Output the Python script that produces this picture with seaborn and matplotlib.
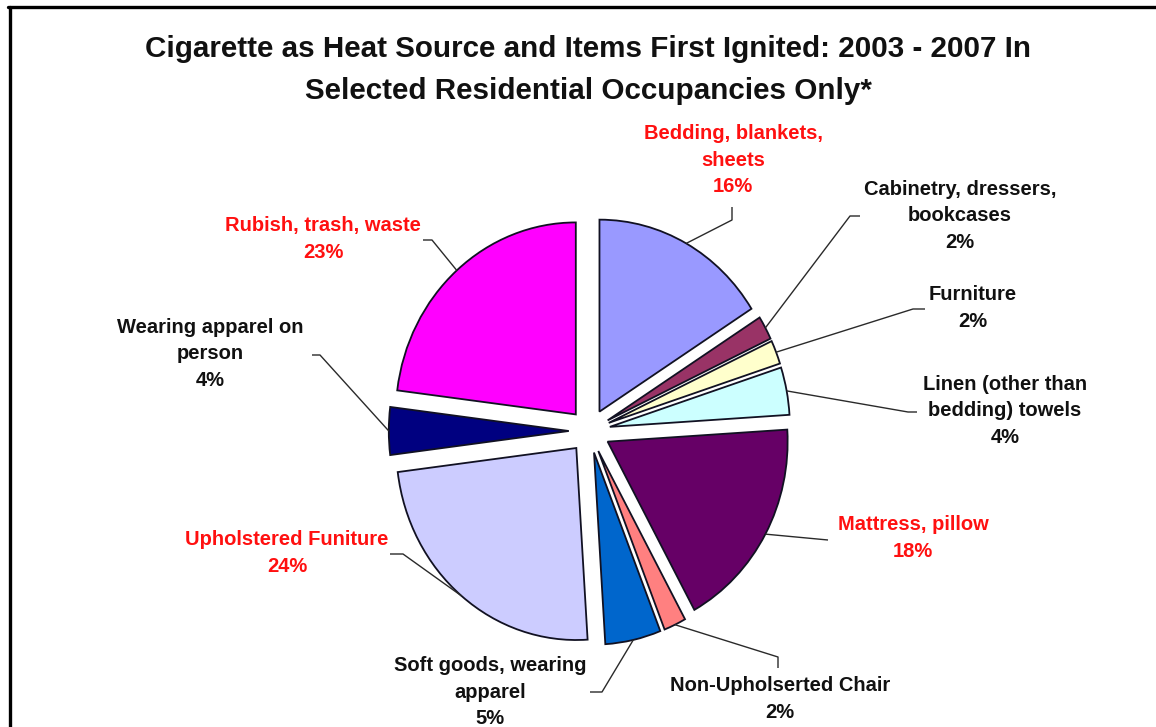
import numpy as np
import matplotlib
matplotlib.use("Agg")
import matplotlib.pyplot as plt
import seaborn as sns

# ---------------- data ----------------
categories = [
    "Bedding, blankets,\nsheets",
    "Cabinetry, dressers,\nbookcases",
    "Furniture",
    "Linen (other than\nbedding) towels",
    "Mattress, pillow",
    "Non-Upholserted Chair",
    "Soft goods, wearing\napparel",
    "Upholstered Funiture",
    "Wearing apparel on\nperson",
    "Rubish, trash, waste",
]
percent = [16, 2, 2, 4, 18, 2, 5, 24, 4, 23]
slice_colors = ["#9999FF", "#993366", "#FFFFCC", "#CCFFFF", "#660066",
                "#FF8080", "#0066CC", "#CCCCFF", "#000080", "#FF00FF"]
highlight = [True, False, False, False, True, False, False, True, False, True]
title = ("Cigarette as Heat Source and Items First Ignited: 2003 - 2007 In\n"
         "Selected Residential Occupancies Only*")

# ---------------- layout (pixels) ----------------
W, H = 1156, 727
CX, CY = 589.5, 431.0      # pie centre
RX, RY = 180.0, 192.0      # px per data unit in x / y
EXPLODE = 0.115
# label centre (x, y of middle of text block), leader elbow points
label_pos = [(733, 160), (960, 216), (973, 308), (1005, 411), (913, 538),
             (780, 699), (490, 692), (287, 553), (210, 354), (323, 239)]
leader_pts = [
    [(732, 220), (732, 207)],
    [(850, 216), (860, 216)],
    [(913, 309), (925, 309)],
    [(908, 412), (917, 412)],
    [(828, 540)],
    [(778, 657), (778, 668)],
    [(602, 692), (590, 692)],
    [(403, 554), (390, 554)],
    [(320, 355), (312, 355)],
    [(432, 240), (423, 240)],
]

def px2data(x, y):
    return (x - CX) / RX, (CY - y) / RY

sns.set_style("white")
plt.rcParams["font.family"] = ["Liberation Sans", "DejaVu Sans"]

fig = plt.figure(figsize=(W / 100, H / 100), dpi=100)
ax = fig.add_axes([0, 0, 1, 1])

wedges, _ = ax.pie(percent, colors=slice_colors, startangle=90,
                   counterclock=False, explode=[EXPLODE] * len(percent),
                   wedgeprops=dict(edgecolor="#111122", linewidth=1.3))
ax.set_aspect("auto")
ax.set_xlim(-CX / RX, (W - CX) / RX)
ax.set_ylim(-(H - CY) / RY, CY / RY)
ax.axis("off")

for w, cat, p, hl, lp, pts in zip(wedges, categories, percent, highlight,
                                  label_pos, leader_pts):
    ang = np.deg2rad((w.theta1 + w.theta2) / 2)
    r = 1 + EXPLODE
    sx, sy = r * np.cos(ang), r * np.sin(ang)
    xs = [sx] + [px2data(*q)[0] for q in pts]
    ys = [sy] + [px2data(*q)[1] for q in pts]
    ax.plot(xs, ys, color="#2a2a2a", lw=1.0, solid_capstyle="butt")
    tx, ty = px2data(*lp)
    ax.text(tx, ty, f"{cat}\n{p}%", ha="center", va="center",
            fontsize=14.5, fontweight="bold", linespacing=1.5,
            color="#FF1010" if hl else "#111111")

fig.text(588 / W, 1 - 70 / H, title, ha="center", va="center",
         fontsize=21.3, fontweight="bold", linespacing=1.68, color="#111111")

# partial frame (left and top edges)
fig.add_artist(plt.Line2D([9.5 / W, 9.5 / W], [0, 1 - 7 / H],
                          color="black", lw=2.4, transform=fig.transFigure))
fig.add_artist(plt.Line2D([8.3 / W, 1], [1 - 7 / H, 1 - 7 / H],
                          color="black", lw=2.4, transform=fig.transFigure))

fig.savefig("out.png", dpi=100, facecolor="white")
